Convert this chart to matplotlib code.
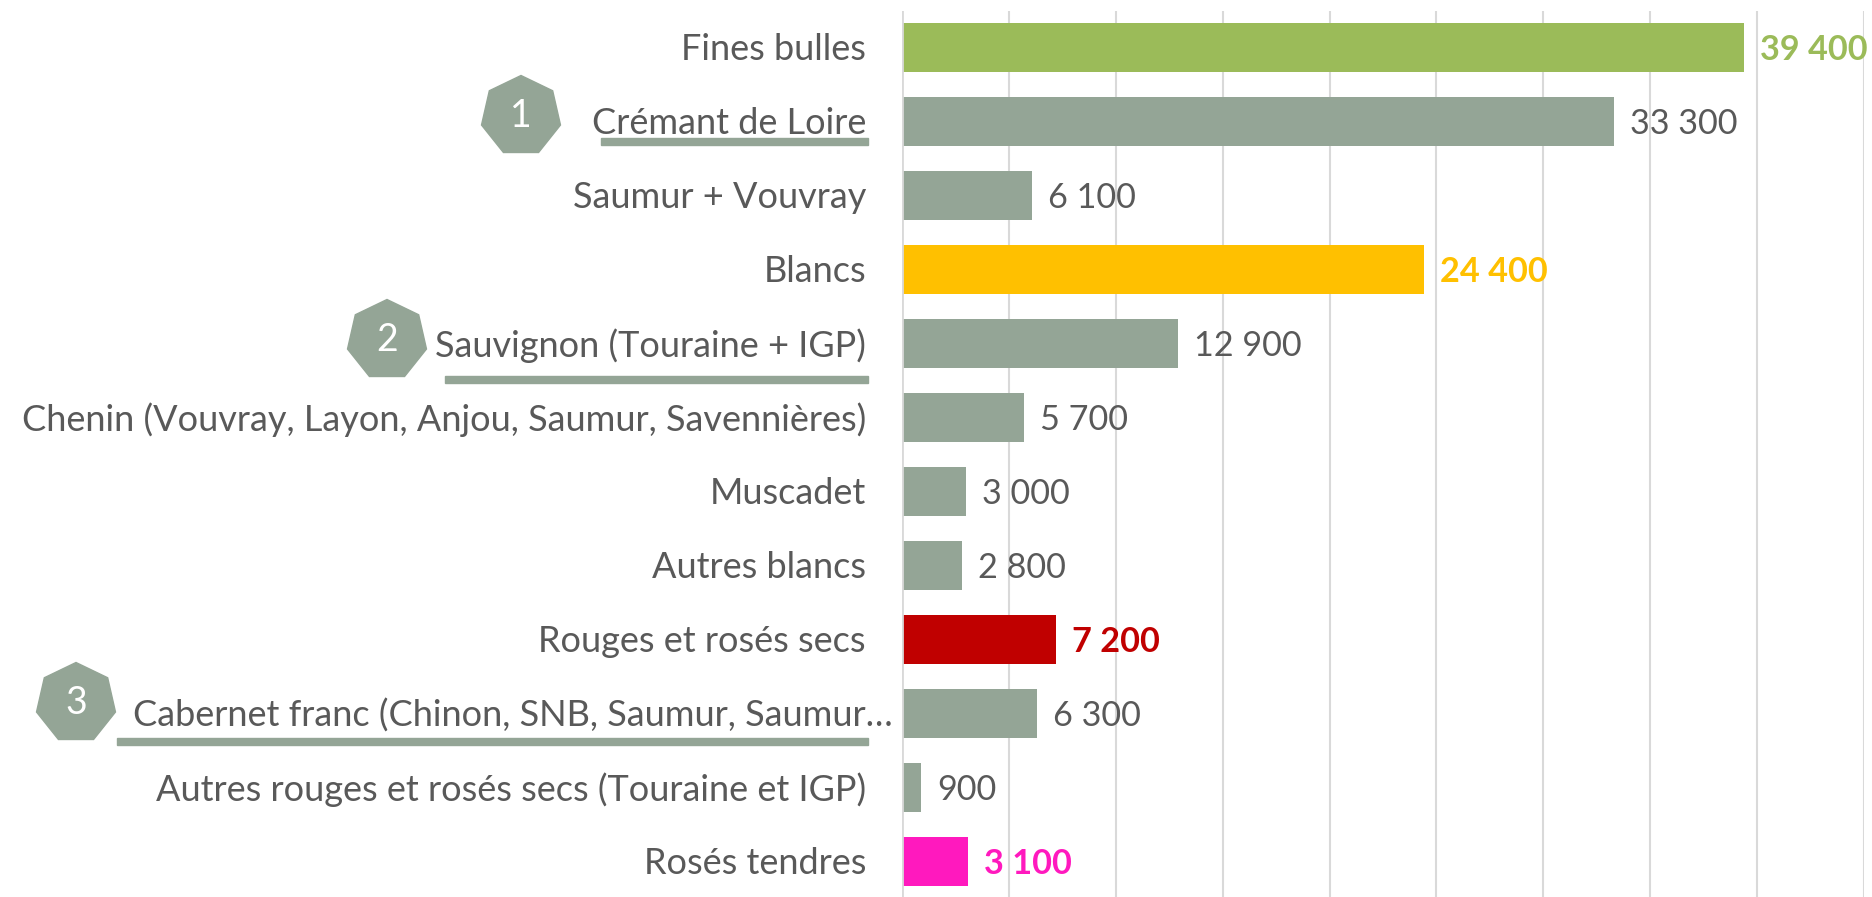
import matplotlib
matplotlib.use('Agg')
import matplotlib.pyplot as plt
from matplotlib.patches import RegularPolygon, Rectangle
from matplotlib.transforms import IdentityTransform

plt.rcParams['font.family'] = ['Lato', 'DejaVu Sans']

categories = [
    'Fines bulles',
    'Crémant de Loire',
    'Saumur + Vouvray',
    'Blancs',
    'Sauvignon (Touraine + IGP)',
    'Chenin (Vouvray, Layon, Anjou, Saumur, Savennières)',
    'Muscadet',
    'Autres blancs',
    'Rouges et rosés secs',
    'Cabernet franc (Chinon, SNB, Saumur, Saumur…',
    'Autres rouges et rosés secs (Touraine et IGP)',
    'Rosés tendres',
]
values = [39400, 33300, 6100, 24400, 12900, 5700, 3000, 2800, 7200, 6300, 900, 3100]
value_labels = ['39 400', '33 300', '6 100', '24 400', '12 900', '5 700',
                '3 000', '2 800', '7 200', '6 300', '900', '3 100']
grid_ticks = [0, 5000, 10000, 15000, 20000, 25000, 30000, 35000, 40000, 45000]

GREY = '#94A596'
TEXT = '#595959'
colors = ['#9BBB59', GREY, GREY, '#FFC000', GREY, GREY, GREY, GREY, '#C00000', GREY, GREY, '#FF19BE']
label_colors = ['#9BBB59', TEXT, TEXT, '#FFC000', TEXT, TEXT, TEXT, TEXT, '#C00000', TEXT, TEXT, '#FF19BE']
label_bold = [True, False, False, True, False, False, False, False, True, False, False, True]

W, H = 1872, 897
fig = plt.figure(figsize=(W / 100, H / 100), dpi=100)

# axes placed in pixels: x 902..1864, top 10.5, 74 px per category
ax = fig.add_axes([902 / W, 1 - 898.5 / H, 962 / W, 888 / H])
ax.barh(range(len(values)), values, height=49 / 74, color=colors, zorder=3)
ax.axvline(0, color='#D9D9D9', linewidth=2, zorder=4)
ax.set_xlim(0, 45000)
ax.set_ylim(11.5, -0.5)
ax.set_xticks(grid_ticks)
ax.set_yticks([])
ax.tick_params(axis='x', length=0, labelbottom=False)
ax.grid(axis='x', color='#D9D9D9', linewidth=1.5, zorder=0)
for s in ax.spines.values():
    s.set_visible(False)

for i, name in enumerate(categories):
    # the truncated label runs closer to the axis
    off = -9 if name.endswith('…') else -36
    ax.annotate(name, (0, i), xytext=(off * 0.72, -1.5), textcoords='offset points',
                ha='right', va='center', fontsize=26, color=TEXT, annotation_clip=False)

for i, v in enumerate(values):
    ax.annotate(value_labels[i], (v, i), xytext=(16 * 0.72, -1.5), textcoords='offset points',
                ha='left', va='center', fontsize=24.7, color=label_colors[i],
                fontweight='bold' if label_bold[i] else 'normal', zorder=5,
                annotation_clip=False)

# numbered heptagons and underlines, in image pixels
markers = [('1', 521, 115), ('2', 387, 339), ('3', 76, 702)]
underlines = [(601, 868, 138), (445, 868, 376), (117, 868, 738)]
for num, x, y in markers:
    fig.add_artist(RegularPolygon((x, H - y - 1), 7, radius=40.5, color=GREY,
                                  transform=IdentityTransform()))
    fig.text(x / W, 1 - (y + 1) / H, num, color='white', fontsize=27, ha='center', va='center')
for x0, x1, y in underlines:
    fig.add_artist(Rectangle((x0, H - y - 7), x1 - x0, 7, color=GREY,
                             transform=IdentityTransform()))

fig.savefig('out.png', dpi=100)
